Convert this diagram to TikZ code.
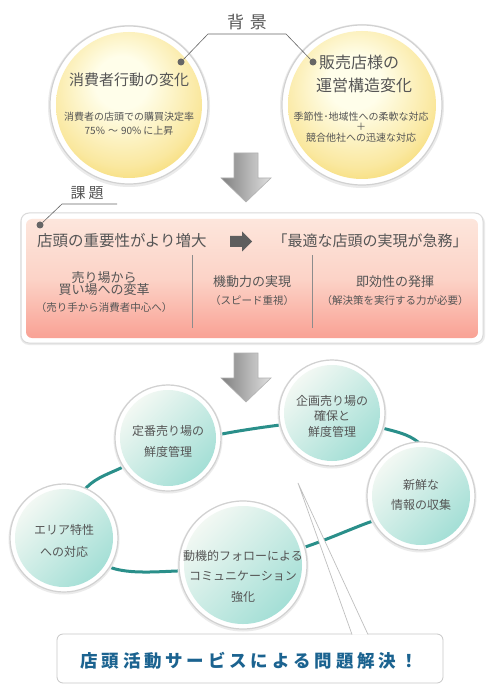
\documentclass[tikz,border=0pt]{standalone}
\usepackage{fontspec}
\setmainfont{Noto Sans CJK JP}
\usetikzlibrary{calc}
\definecolor{txt}{HTML}{555555}
\definecolor{blu}{HTML}{1B6390}
\definecolor{teal}{HTML}{2A8F8A}
\definecolor{yl1}{HTML}{FFFEEA}
\definecolor{yl2}{HTML}{FAE8A0}
\definecolor{yl3}{HTML}{F4D45C}
\definecolor{tl1}{HTML}{F2F8F3}
\definecolor{tl2}{HTML}{A4DFD6}
\definecolor{pk1}{HTML}{FDE6DC}
\definecolor{pk2}{HTML}{FCD3C7}
\definecolor{pk3}{HTML}{F9A194}
\definecolor{dot}{HTML}{666666}
\pgfdeclareradialshading{yellowball}{\pgfpoint{-3bp}{9bp}}{color(0bp)=(yl1); color(9bp)=(yl1); color(26bp)=(yl2); color(36bp)=(yl3); color(60bp)=(yl3)}
\newcommand{\fs}[1]{\fontsize{#1}{#1}\selectfont}
\tikzset{
  lbl/.style={text=txt, inner sep=0pt, align=center},
  ringc/.style={fill=white, draw=black!18, line width=1.2pt},
  yellowin/.style={shading=yellowball},
  tealin/.style={top color=tl1, bottom color=tl2, shading angle=45},
  bigarrow/.style={left color=black!50, right color=black!12, draw=black!30, line width=0.6pt},
  leader/.style={draw=black!60, line width=0.6pt},
  dotc/.style={circle, fill=dot, inner sep=0pt, minimum size=7pt},
}
\begin{document}
\begin{tikzpicture}[x=1pt,y=-1pt]
\useasboundingbox (0,0) rectangle (500,692);
\fill[white] (0,0) rectangle (500,692);

% ---------------- top circles ----------------
\fill[black!8] (129,106) circle (81);
\path[ringc] (129,105) circle (79);
\path[yellowin] (129,105) circle (73);
\fill[black!8] (362,106) circle (82);
\path[ringc] (362,105) circle (80);
\path[yellowin] (362,105) circle (74);

\node[dotc] (d1) at (181,62) {};
\node[dotc] (d2) at (313,62) {};
\coordinate (k1) at (208,34);
\coordinate (k2) at (286,34);
\draw[leader] (d1) -- (k1) -- (k2) -- (d2);
\node[lbl, font=\fs{17}] (bg) at (247,22) {背\hspace{6pt}景};

\node[lbl, font=\fs{15}] (t1) at (129,80) {消費者行動の変化};
\node[lbl, font=\fs{10}] (s1) at (129,117) {消費者の店頭での購買決定率};
\node[lbl, font=\fs{10}] (s2) at (129,131) {75\%\hspace{3pt}～\hspace{3pt}90\%\hspace{2pt}に上昇};

\node[lbl, font=\fs{16}, anchor=west] (t2) at (319,62) {販売店様の};
\node[lbl, font=\fs{16}] (t3) at (364,85) {運営構造変化};
\node[lbl, font=\fs{10}] (s3) at (361,117) {季節性･地域性への柔軟な対応};
\node[lbl, font=\fs{10}] (s4) at (361,127) {＋};
\node[lbl, font=\fs{10}] (s5) at (361,138) {競合他社への迅速な対応};

% ---------------- arrows ----------------
\foreach \dy in {0,200}{
  \path[bigarrow] (234,153+\dy) -- (258,153+\dy) -- (258,178+\dy) -- (271,178+\dy)
     -- (246,202+\dy) -- (221,178+\dy) -- (234,178+\dy) -- cycle;
}

% ---------------- issue box ----------------
\fill[black!8, rounded corners=9pt] (20,214) rectangle (485,345);
\path[fill=white, draw=black!15, line width=1pt, rounded corners=8pt] (21,213) rectangle (483,343);
\path[rounded corners=6pt, top color=pk1, bottom color=pk3, middle color=pk2] (26,219) rectangle (478,338);

\node[lbl, font=\fs{15}] (kd) at (87,193) {課\hspace{3pt}題};
\node[dotc] (d3) at (40,225) {};
\coordinate (k3) at (62,204);
\coordinate (k4) at (117,204);
\draw[leader] (d3) -- (k3) -- (k4);

\node[lbl, font=\fs{15.5}, anchor=west] (h1) at (37,241) {店頭の重要性がより増大};
\fill[txt!95] (230,236) -- (242,236) -- (242,231.5) -- (252,241.5) -- (242,251.5) -- (242,247) -- (230,247) -- cycle;
\node[lbl, font=\fs{15}] (h2) at (370,241) {「最適な店頭の実現が急務」};

\draw[black!45, line width=0.6pt] (192,255) -- (192,328);
\draw[black!45, line width=0.6pt] (312,255) -- (312,328);

\node[lbl, font=\fs{13}] (c1) at (104,284) {売り場から\\[-1pt]買い場への変革};
\node[lbl, font=\fs{10.5}] (c1s) at (104,308) {（売り手から消費者中心へ）};
\node[lbl, font=\fs{13}] (c2) at (252,282) {機動力の実現};
\node[lbl, font=\fs{10.5}] (c2s) at (252,301) {（スピード重視）};
\node[lbl, font=\fs{13}] (c3) at (395,282) {即効性の発揮};
\node[lbl, font=\fs{10.5}] (c3s) at (395,301) {（解決策を実行する力が必要）};

% ---------------- ring ----------------
\draw[teal, line width=3pt] plot[smooth cycle, tension=0.55] coordinates {
  (58,532) (87,487) (123,467) (168,447) (222,434) (280,425) (332,420) (382,428) (418,442)
  (445,480) (405,512) (370,522) (305,547) (243,563) (177,571) (112,568)};

% ---------------- bottom box and pointer ----------------
\path[fill=white, draw=black!22, line width=0.8pt, rounded corners=6pt] (57,634) rectangle (443,683);
\coordinate (pa) at (298,483);
\coordinate (pb) at (352,634.5);
\coordinate (pc) at (368,634.5);
\fill[white] (pa) -- (pb) -- (pc) -- cycle;
\draw[black!25, line width=0.7pt] (pb) -- (pa) -- (pc);
\node[inner sep=0pt, font=\fs{17.5}\bfseries, text=blu] (sol) at (249,661)
  {店\hspace{3.8pt}頭\hspace{3.8pt}活\hspace{3.8pt}動\hspace{3.8pt}サ\hspace{3.8pt}ー\hspace{3.8pt}ビ\hspace{3.8pt}ス\hspace{3.8pt}に\hspace{3.8pt}よ\hspace{3.8pt}る\hspace{3.8pt}問\hspace{3.8pt}題\hspace{3.8pt}解\hspace{3.8pt}決\hspace{3.8pt}！};

% ---------------- teal circles ----------------
\foreach \cx/\cy/\r in {168/438/53, 332/413/53, 421/496/54, 64/538/54, 243/565/64}{
  \fill[black!8] (\cx,\cy+1) circle (\r+1.5);
  \path[ringc] (\cx,\cy) circle (\r);
  \path[tealin] (\cx,\cy) circle (\r-5);
}
\node[lbl, font=\fs{12}] (b1) at (168,441) {定番売り場の\\[9pt]鮮度管理};
\node[lbl, font=\fs{12}] (b2) at (332,416) {企画売り場の\\[3.5pt]確保と\\[3.5pt]鮮度管理};
\node[lbl, font=\fs{12}] (b3) at (421,495) {新鮮な\\[8pt]情報の収集};
\node[lbl, font=\fs{12}] (b4) at (64,541) {エリア特性\\[10pt]への対応};
\node[lbl, font=\fs{12}] (b5) at (243,576) {動機的フォローによる\\[8.5pt]コミュニケーション\\[8.5pt]強化};
\end{tikzpicture}
\end{document}
